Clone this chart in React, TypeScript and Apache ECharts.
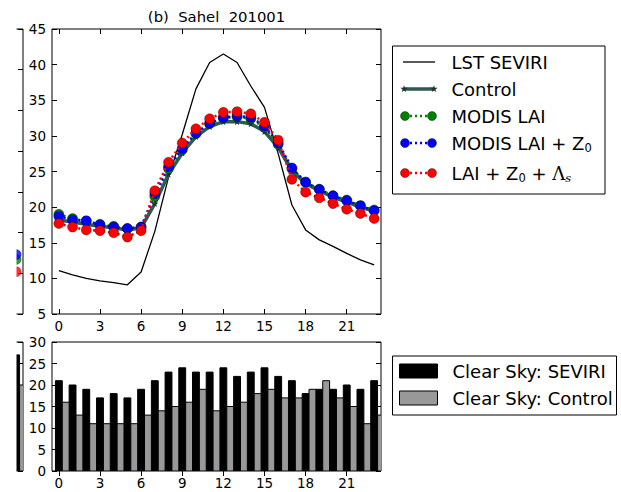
import React, { useEffect, useRef } from "react";
import * as echarts from "echarts";

const FONT = "DejaVu Sans";

// ---------- data ----------
const hours = ["0","1","2","3","4","5","6","7","8","9","10","11","12","13","14","15","16","17","18","19","20","21","22","23"];

const lstSeviri = [11.1, 10.5, 10.0, 9.65, 9.4, 9.1, 10.9, 16.6, 24.2, 30.2, 36.6, 40.3, 41.5, 40.3, 37.0, 34.0, 27.5, 20.3, 16.8, 15.4, 14.5, 13.5, 12.6, 11.9];
const control = [18.2, 17.9, 17.6, 17.3, 17.1, 16.8, 17.1, 20.5, 24.6, 27.6, 29.9, 31.3, 32.0, 32.0, 31.7, 30.6, 28.4, 25.1, 23.3, 22.3, 21.4, 20.7, 20.0, 19.4];
const modisLai = [19.0, 18.4, 18.0, 17.6, 17.3, 17.0, 17.2, 21.5, 25.4, 28.0, 30.3, 31.7, 32.5, 32.7, 32.4, 31.2, 28.8, 25.4, 23.5, 22.5, 21.6, 21.0, 20.2, 19.6];
const modisLaiZ0 = [18.7, 18.2, 18.1, 17.5, 17.2, 17.0, 17.2, 21.9, 25.7, 28.2, 30.4, 31.8, 32.6, 32.8, 32.6, 31.4, 29.0, 25.5, 23.5, 22.5, 21.6, 20.9, 20.2, 19.5];
const laiZ0Lambda = [17.7, 17.2, 16.8, 16.7, 16.4, 15.8, 16.7, 22.3, 26.3, 29.0, 31.0, 32.4, 33.3, 33.4, 33.1, 31.9, 29.4, 23.9, 22.1, 21.3, 20.5, 19.7, 19.1, 18.4];

const clearSkySeviri = [21, 20, 19, 17, 18, 17, 19, 21, 23, 24, 23, 23, 24, 22, 23, 24, 22, 21, 18, 19, 19, 20, 19, 21];
const clearSkyControl = [16, 13, 11, 11, 11, 11, 13, 14, 15, 16, 19, 14, 15, 16, 18, 19, 17, 17, 19, 21, 17, 15, 11, 13];

// fragment of the neighbouring panel (last hour only visible)
const neighborHour = 23;
const neighborModisLai = 16.7;
const neighborModisLaiZ0 = 17.3;
const neighborLaiZ0Lambda = 15.2;
const neighborClearSeviri = 27;
const neighborClearControl = 20;

const topYTicks = { min: 5, max: 45 };
const bottomYTicks = { min: 0, max: 30 };

const titleText = "(b)  Sahel  201001";
const topLegendLabels = ["LST SEVIRI", "Control", "MODIS LAI", "MODIS LAI + Z{sub|0}", "LAI + Z{sub|0} + {lam|Λ}{si|s}"];
const bottomLegendLabels = ["Clear Sky: SEVIRI", "Clear Sky: Control"];

// ---------- styles ----------
const C_CONTROL = "#2e5a56";
const C_STAR = "#1c3533";
const C_GREEN = "#008000";
const C_BLUE = "#0000ff";
const C_RED = "#ff0000";
const C_GRAY = "#999999";
const STAR = "path://M0,-10L2.35,-3.24L9.51,-3.09L3.8,1.24L5.88,8.09L0,4L-5.88,8.09L-3.8,1.24L-9.51,-3.09L-2.35,-3.24Z";

const TICK_FS = 13.5;
const LEG_FS = 18;

function catAxis(gridIndex: number, position: string, showLabels: boolean, showTicks = true) {
  return {
    type: "category",
    gridIndex,
    position,
    data: hours,
    boundaryGap: true,
    axisLine: { show: false },
    axisTick: { show: showTicks, inside: true, interval: 2, alignWithLabel: true, length: 5, lineStyle: { color: "#000", width: 1 } },
    axisLabel: { show: showLabels, interval: 2, color: "#000", fontSize: TICK_FS, fontFamily: FONT, margin: 5 },
    splitLine: { show: false },
  };
}

function valAxis(gridIndex: number, position: string, min: number, max: number, showLabels: boolean) {
  return {
    type: "value",
    gridIndex,
    position,
    min,
    max,
    interval: 5,
    axisLine: { show: false },
    axisTick: { show: true, inside: true, length: 5, lineStyle: { color: "#000", width: 1 } },
    axisLabel: { show: showLabels, color: "#000", fontSize: TICK_FS, fontFamily: FONT, margin: 6 },
    splitLine: { show: false },
  };
}

function barRender(offset: number, fill: string) {
  return (params: any, api: any) => {
    const idx = api.value(0);
    const val = api.value(1);
    const top = api.coord([idx, val]);
    const base = api.coord([idx, 0]);
    const band = api.size([1, 0])[0];
    return {
      type: "rect",
      shape: { x: top[0] + band * (offset - 0.25), y: top[1], width: band * 0.5, height: base[1] - top[1] },
      style: { fill, stroke: "#000", lineWidth: 1 },
    };
  };
}

function starPoints(cx: number, cy: number, r: number) {
  const pts: number[][] = [];
  for (let i = 0; i < 10; i++) {
    const rr = i % 2 === 0 ? r : r * 0.4;
    const a = -Math.PI / 2 + (i * Math.PI) / 5;
    pts.push([cx + rr * Math.cos(a), cy + rr * Math.sin(a)]);
  }
  return pts;
}

const richSub = {
  sub: { fontSize: 11.5, fontFamily: FONT, fill: "#000", padding: [9, 0, 0, 0] },
  lam: { fontSize: LEG_FS, fontFamily: "DejaVu Serif", fill: "#000" },
  si: { fontSize: 11.5, fontFamily: "DejaVu Serif", fontStyle: "italic", fill: "#000", padding: [9, 0, 0, 0] },
};

function legendText(x: number, y: number, text: string) {
  return {
    type: "text",
    x,
    y,
    z: 110,
    style: { text, fontSize: LEG_FS, fontFamily: FONT, fill: "#000", verticalAlign: "middle", align: "left", rich: richSub },
  };
}

function dotMarker(y: number, color: string) {
  return [
    { type: "line", z: 110, shape: { x1: 405, y1: y, x2: 432, y2: y }, style: { stroke: color, lineWidth: 2.5, lineDash: [2, 3] } },
    { type: "circle", z: 111, shape: { cx: 405, cy: y, r: 4.5 }, style: { fill: color, stroke: "rgba(0,0,0,0.6)", lineWidth: 0.6 } },
    { type: "circle", z: 111, shape: { cx: 432, cy: y, r: 4.5 }, style: { fill: color, stroke: "rgba(0,0,0,0.6)", lineWidth: 0.6 } },
  ];
}

function buildOption() {
  const ty = [62, 89, 116, 143, 173];
  const graphic: any[] = [
    // mask hiding the rest of the neighbouring panel
    { type: "rect", z: 100, shape: { x: 0, y: 0, width: 16.5, height: 492 }, style: { fill: "#fff" } },
    // title
    { type: "text", x: 216.5, y: 16, z: 110, style: { text: titleText, fontSize: 14.8, fontFamily: FONT, fill: "#000", align: "center", verticalAlign: "middle" } },
    // top legend
    { type: "rect", z: 105, shape: { x: 392.5, y: 46, width: 212.5, height: 148 }, style: { fill: "#fff", stroke: "#000", lineWidth: 1 } },
    { type: "line", z: 110, shape: { x1: 403, y1: ty[0], x2: 435, y2: ty[0] }, style: { stroke: "#000", lineWidth: 1.3 } },
    { type: "line", z: 110, shape: { x1: 404, y1: ty[1], x2: 434, y2: ty[1] }, style: { stroke: C_CONTROL, lineWidth: 3.5 } },
    { type: "polygon", z: 111, shape: { points: starPoints(404, ty[1], 3.8) }, style: { fill: C_STAR } },
    { type: "polygon", z: 111, shape: { points: starPoints(434, ty[1], 3.8) }, style: { fill: C_STAR } },
    ...dotMarker(ty[2], C_GREEN),
    ...dotMarker(ty[3], C_BLUE),
    ...dotMarker(ty[4], C_RED),
    legendText(451.5, ty[0], topLegendLabels[0]),
    legendText(451.5, ty[1], topLegendLabels[1]),
    legendText(451.5, ty[2], topLegendLabels[2]),
    legendText(451.5, ty[3], topLegendLabels[3]),
    legendText(451.5, ty[4], topLegendLabels[4]),
    // bottom legend
    { type: "rect", z: 105, shape: { x: 392.5, y: 356, width: 224, height: 59 }, style: { fill: "#fff", stroke: "#000", lineWidth: 1 } },
    { type: "rect", z: 110, shape: { x: 399.5, y: 364, width: 38, height: 14 }, style: { fill: "#000", stroke: "#000", lineWidth: 1 } },
    { type: "rect", z: 110, shape: { x: 399.5, y: 391, width: 38, height: 14 }, style: { fill: C_GRAY, stroke: "#000", lineWidth: 1 } },
    legendText(452.5, 371, bottomLegendLabels[0]),
    legendText(452.5, 398, bottomLegendLabels[1]),
  ];

  const gridBase = { show: true, borderColor: "#000", borderWidth: 1, backgroundColor: "transparent", containLabel: false, outerBoundsMode: "none" };

  const lineCommon = { showAllSymbol: true, symbol: "circle", symbolSize: 10, clip: true };

  return {
    animation: false,
    textStyle: { fontFamily: FONT },
    grid: [
      { ...gridBase, left: 52, top: 29, width: 329, height: 285 },
      { ...gridBase, left: 52, top: 342, width: 329, height: 129 },
      { ...gridBase, left: -306, top: 29, width: 329, height: 285 },
      { ...gridBase, left: -306, top: 342, width: 329, height: 129 },
    ],
    xAxis: [
      catAxis(0, "bottom", true),
      catAxis(0, "top", false),
      catAxis(1, "bottom", true),
      catAxis(1, "top", false),
      catAxis(2, "bottom", false, false),
      catAxis(3, "bottom", false, false),
    ],
    yAxis: [
      valAxis(0, "left", topYTicks.min, topYTicks.max, true),
      valAxis(0, "right", topYTicks.min, topYTicks.max, false),
      valAxis(1, "left", bottomYTicks.min, bottomYTicks.max, true),
      valAxis(1, "right", bottomYTicks.min, bottomYTicks.max, false),
      valAxis(2, "right", 10, 45, false),
      valAxis(3, "right", bottomYTicks.min, bottomYTicks.max, false),
    ],
    graphic,
    series: [
      { type: "line", name: "LST SEVIRI", xAxisIndex: 0, yAxisIndex: 0, data: lstSeviri, symbol: "none", lineStyle: { color: "#000", width: 1.3 }, z: 2 },
      { type: "line", name: "Control", xAxisIndex: 0, yAxisIndex: 0, data: control, showAllSymbol: true, symbol: STAR, symbolSize: 7, itemStyle: { color: C_STAR }, lineStyle: { color: C_CONTROL, width: 3.5 }, z: 3 },
      { type: "line", name: "MODIS LAI", xAxisIndex: 0, yAxisIndex: 0, data: modisLai, ...lineCommon, itemStyle: { color: C_GREEN, borderColor: "rgba(0,0,0,0.6)", borderWidth: 0.6 }, lineStyle: { color: C_GREEN, width: 2.5, type: [2, 3] }, z: 4 },
      { type: "line", name: "MODIS LAI + Z0", xAxisIndex: 0, yAxisIndex: 0, data: modisLaiZ0, ...lineCommon, itemStyle: { color: C_BLUE, borderColor: "rgba(0,0,0,0.6)", borderWidth: 0.6 }, lineStyle: { color: C_BLUE, width: 2.5, type: [2, 3] }, z: 5 },
      { type: "line", name: "LAI + Z0 + Ls", xAxisIndex: 0, yAxisIndex: 0, data: laiZ0Lambda, ...lineCommon, itemStyle: { color: C_RED, borderColor: "rgba(0,0,0,0.6)", borderWidth: 0.6 }, lineStyle: { color: C_RED, width: 2.5, type: [2, 3] }, z: 6 },

      { type: "custom", name: "Clear Sky: SEVIRI", xAxisIndex: 2, yAxisIndex: 2, clip: true, data: clearSkySeviri.map((v, i) => [i, v]), renderItem: barRender(0, "#000"), z: 2 },
      { type: "custom", name: "Clear Sky: Control", xAxisIndex: 2, yAxisIndex: 2, clip: true, data: clearSkyControl.map((v, i) => [i, v]), renderItem: barRender(0.5, C_GRAY), z: 2 },

      { type: "scatter", xAxisIndex: 4, yAxisIndex: 4, data: [[neighborHour, neighborModisLai]], symbol: "circle", symbolSize: 10, itemStyle: { color: C_GREEN, borderColor: "rgba(0,0,0,0.6)", borderWidth: 0.6 }, z: 4 },
      { type: "scatter", xAxisIndex: 4, yAxisIndex: 4, data: [[neighborHour, neighborModisLaiZ0]], symbol: "circle", symbolSize: 10, itemStyle: { color: C_BLUE, borderColor: "rgba(0,0,0,0.6)", borderWidth: 0.6 }, z: 5 },
      { type: "scatter", xAxisIndex: 4, yAxisIndex: 4, data: [[neighborHour, neighborLaiZ0Lambda]], symbol: "circle", symbolSize: 10, itemStyle: { color: C_RED, borderColor: "rgba(0,0,0,0.6)", borderWidth: 0.6 }, z: 6 },
      { type: "custom", xAxisIndex: 5, yAxisIndex: 5, clip: true, data: [[neighborHour, neighborClearSeviri]], renderItem: barRender(0, "#000"), z: 2 },
      { type: "custom", xAxisIndex: 5, yAxisIndex: 5, clip: true, data: [[neighborHour, neighborClearControl]], renderItem: barRender(0.5, C_GRAY), z: 2 },
    ],
  };
}

export default function App() {
  const ref = useRef<HTMLDivElement>(null);
  useEffect(() => {
    if (!ref.current) return;
    const chart = echarts.init(ref.current, undefined, { renderer: "svg" });
    chart.setOption(buildOption() as any);
    return () => chart.dispose();
  }, []);
  return (
    <div
      ref={ref}
      style={{ position: "fixed", left: 0, top: 0, width: 621, height: 492, background: "#fff" }}
    />
  );
}
